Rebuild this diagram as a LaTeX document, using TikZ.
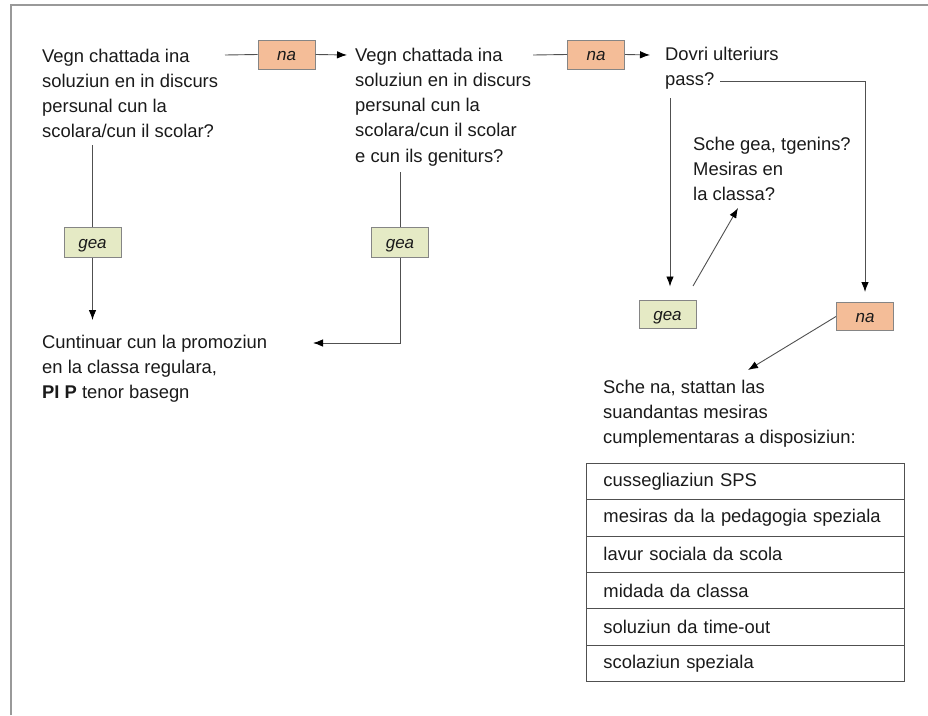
\documentclass[tikz,border=0pt]{standalone}
\usepackage{fontspec}
\setmainfont{Liberation Sans}
\usetikzlibrary{arrows.meta}
\definecolor{nafill}{HTML}{F4BD98}
\definecolor{geafill}{HTML}{E5EAC5}
\definecolor{boxedge}{HTML}{858585}
\definecolor{linecol}{HTML}{505050}
\definecolor{txt}{HTML}{1A1A1A}
\definecolor{framecol}{HTML}{999999}
\begin{document}
\begin{tikzpicture}[x=1pt,y=-1pt,
  txtnode/.style={anchor=base west, inner sep=0pt, align=left, text=txt, font=\fontsize{18.4}{25.3}\selectfont},
  nabox/.style={draw=boxedge, fill=nafill, line width=1pt, minimum width=57pt, minimum height=29pt, inner sep=0pt, text height=12pt, text depth=0pt, font=\fontsize{17}{17}\selectfont\itshape, text=txt},
  geabox/.style={nabox, fill=geafill, minimum height=30pt},
  conn/.style={draw=linecol, line width=0.9pt},
  arr/.style={conn, -{Latex[length=10pt,width=7.5pt,color=black]}},
  rowbox/.style={draw=linecol, line width=0.9pt, minimum width=318pt, minimum height=36.33pt, anchor=north west, inner xsep=17pt, inner ysep=0pt, text width=284pt, align=left, font=\fontsize{18.4}{22}\selectfont, text=txt}
]
\useasboundingbox (0,0) rectangle (928,715);
\draw[framecol, line width=2pt] (10.5,715) -- (10.5,5) -- (928,5);

% text nodes (anchored at the baseline of their last line)
\node[txtnode] (q1) at (42,137.9) {Vegn chattada ina\\soluziun en in discurs\\persunal cun la\\scolara/cun il scolar?};
\node[txtnode] (q2) at (355,162.2) {Vegn chattada ina\\soluziun en in discurs\\persunal cun la\\scolara/cun il scolar\\e cun ils geniturs?};
\node[txtnode] (q3) at (665,85.3) {Dovri ulteriurs\\pass?};
\node[txtnode] (q4) at (693,200.6) {Sche gea, tgenins?\\Mesiras en\\la classa?};
\node[txtnode] (r1) at (42,398.6) {Cuntinuar cun la promoziun\\en la classa regulara,\\\textbf{PI P} tenor basegn};
\node[txtnode] (q5) at (603,443.6) {Sche na, stattan las\\suandantas mesiras\\cumplementaras a disposiziun:};

% answer boxes
\node[nabox] (na1) at (286.5,54.5) {na};
\node[nabox] (na2) at (596,54.5) {na};
\node[geabox] (gea1) at (92.5,242) {gea};
\node[geabox] (gea2) at (400,242) {gea};
\node[geabox, minimum height=28pt] (gea3) at (667.5,314) {gea};
\node[nabox, minimum height=28pt] (na3) at (865,316.5) {na};

% table
\node[rowbox] (t1) at (586,463) {cussegliaziun SPS};
\node[rowbox] (t2) at (586,499.33) {mesiras da la pedagogia speziala};
\node[rowbox] (t3) at (586,535.66) {lavur sociala da scola};
\node[rowbox] (t4) at (586,572) {midada da classa};
\node[rowbox] (t5) at (586,608.33) {soluziun da time-out};
\node[rowbox] (t6) at (586,644.66) {scolaziun speziala};

% connectors
\coordinate (q1a) at (225,55);
\coordinate (q2a) at (347,55);
\coordinate (q2b) at (533,55);
\coordinate (q3a) at (650,55);
\coordinate (q1d) at (92.5,145);
\coordinate (r1a) at (92.5,320);
\coordinate (q2d) at (400,172);
\coordinate (r1b) at (313,343);
\coordinate (q3d) at (670,98);
\coordinate (q3r) at (720,81);
\coordinate (g3o) at (693,286);
\coordinate (q4b) at (738,208);
\coordinate (q5t) at (748,370);

\draw[conn] (q1a) -- (na1.west);
\draw[arr] (na1.east) -- (q2a);
\draw[conn] (q2b) -- (na2.west);
\draw[arr] (na2.east) -- (q3a);
\draw[conn] (q1d) -- (gea1.north);
\draw[arr] (gea1.south) -- (r1a);
\draw[conn] (q2d) -- (gea2.north);
\draw[arr] (gea2.south) |- (r1b);
\draw[arr, shorten >=13pt] (q3d) -- (q3d |- gea3.north);
\draw[arr, shorten >=10pt] (q3r) -| (na3.north);
\draw[arr] (g3o) -- (q4b);
\draw[arr] (na3.west) -- (q5t);
\end{tikzpicture}
\end{document}
